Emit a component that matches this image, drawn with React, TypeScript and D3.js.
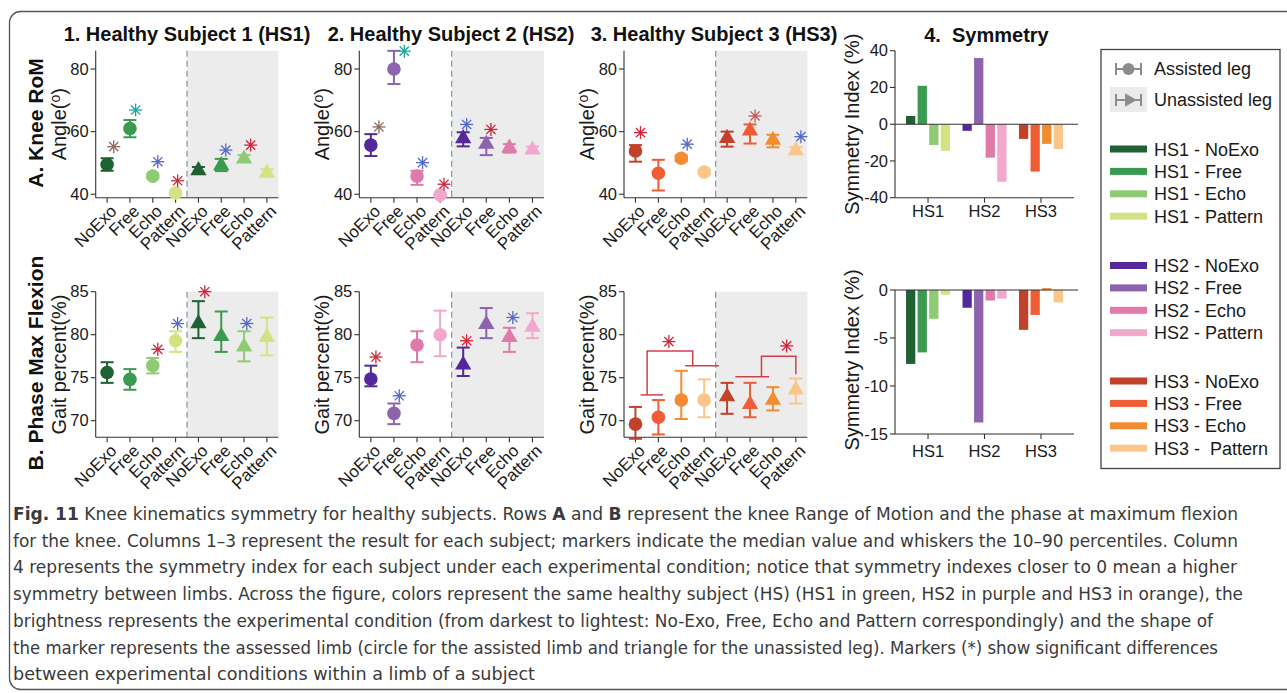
import React from "react";
import * as d3 from "d3";

const conditions = ["NoExo", "Free", "Echo", "Pattern"];
const subjects = ["HS1", "HS2", "HS3"];
const hs1Colors = ["#1f6132", "#3a9a4f", "#8fcb74", "#d3e283"];
const hs2Colors = ["#54289b", "#8e63ad", "#e07aab", "#f4a7cc"];
const hs3Colors = ["#c1412a", "#ef5d35", "#f28c31", "#fbc689"];
const starColors: Record<string, string> = {
  brown: "#8b6b62",
  teal: "#18a79b",
  blue: "#5468c6",
  red: "#d1263b",
  rust: "#c9554f",
};

const romTicks = [40, 60, 80];
const phaseTicks = [70, 75, 80, 85];
const symRomTicks = [-40, -20, 0, 20, 40];
const symPhaseTicks = [-15, -10, -5, 0];

// [median, p10, p90] per condition
const hs1RomAssisted = [[49.5, 47.5, 51.5], [61.0, 58.2, 63.7], [45.8, 45.2, 46.5], [40.4, 40.0, 41.0]];
const hs1RomUnassisted = [[47.6, 46.6, 48.7], [49.2, 47.4, 51.3], [51.3, 50.4, 52.5], [46.8, 46.0, 48.0]];
const hs2RomAssisted = [[55.7, 52.2, 59.2], [80.0, 75.2, 85.8], [45.8, 43.0, 47.5], [39.8, 39.4, 40.2]];
const hs2RomUnassisted = [[57.8, 55.3, 59.8], [56.0, 52.5, 58.0], [54.8, 53.3, 56.0], [54.2, 53.5, 55.2]];
const hs3RomAssisted = [[53.8, 50.4, 55.7], [46.7, 41.2, 51.0], [51.5, 50.6, 52.4], [47.1, 46.5, 47.8]];
const hs3RomUnassisted = [[57.9, 55.2, 60.0], [60.3, 56.2, 62.3], [57.3, 55.0, 59.0], [53.9, 53.0, 55.0]];

const hs1PhaseAssisted = [[75.6, 74.4, 76.8], [74.8, 73.6, 76.0], [76.4, 75.5, 77.3], [79.3, 78.0, 80.4]];
const hs1PhaseUnassisted = [[81.3, 79.6, 83.9], [79.8, 78.0, 82.7], [78.6, 76.9, 80.4], [79.7, 77.6, 82.0]];
const hs2PhaseAssisted = [[74.85, 74.0, 76.4], [70.85, 69.6, 72.0], [78.8, 76.8, 80.4], [80.0, 77.5, 82.8]];
const hs2PhaseUnassisted = [[76.5, 75.2, 78.5], [81.2, 79.6, 83.1], [79.7, 78.0, 80.8], [80.9, 79.6, 82.5]];
const hs3PhaseAssisted = [[69.6, 67.9, 71.6], [70.4, 68.4, 72.4], [72.4, 70.2, 75.8], [72.4, 70.4, 74.8]];
const hs3PhaseUnassisted = [[72.8, 70.8, 74.4], [71.9, 70.4, 74.4], [72.4, 71.2, 73.9], [73.6, 72.0, 74.9]];

// significance markers: [slot 0-7, offset within slot, value, colour]
const hs1RomStars: [number, number, number, string][] = [[0, 0.29, 55.2, "brown"], [1, 0.25, 66.9, "teal"], [2, 0.22, 50.4, "blue"], [3, 0.09, 44.3, "red"], [5, 0.2, 54.1, "blue"], [6, 0.29, 55.7, "red"]];
const hs2RomStars: [number, number, number, string][] = [[0, 0.35, 61.5, "brown"], [1, 0.45, 85.7, "teal"], [2, 0.24, 50.1, "blue"], [3, 0.17, 43.2, "red"], [4, 0.15, 62.3, "blue"], [5, 0.2, 60.7, "red"]];
const hs3RomStars: [number, number, number, string][] = [[0, 0.22, 59.7, "red"], [2, 0.26, 56.0, "blue"], [5, 0.22, 65.0, "rust"], [7, 0.22, 58.4, "blue"]];
const hs1PhaseStars: [number, number, number, string][] = [[2, 0.22, 78.3, "red"], [3, 0.09, 81.3, "blue"], [4, 0.28, 85.0, "red"], [6, 0.12, 81.3, "blue"]];
const hs2PhaseStars: [number, number, number, string][] = [[0, 0.22, 77.4, "red"], [1, 0.23, 72.9, "blue"], [4, 0.15, 79.3, "red"], [6, 0.15, 82.0, "blue"]];
const hs3PhaseStars: [number, number, number, string][] = [[1, 0.46, 79.2, "red"], [6, 0.6, 78.7, "red"]];

// group-comparison brackets (slot units): left low [a,b,v], right low [a,b,v], top [a,b,v]
const hs3PhaseBrackets = [
  { left: [0.22, 1.2, 73.0], right: [2.17, 3.64, 76.4], top: [0.51, 2.5, 78.1] },
  { left: [4.36, 5.83, 75.1], right: [7.0, 7.0, 75.4], top: [5.5, 7.0, 77.5] },
];

const symRom = [[4.5, 20.9, -11.3, -14.5], [-3.6, 36.0, -18.2, -31.3], [-8.0, -25.8, -10.7, -13.5]];
const symPhase = [[-7.7, -6.5, -3.0, -0.5], [-1.85, -13.8, -1.1, -0.9], [-4.15, -2.6, 0.2, -1.3]];

const captionLines = [
  "for the knee. Columns 1–3 represent the result for each subject; markers indicate the median value and whiskers the 10–90 percentiles. Column",
  "4 represents the symmetry index for each subject under each experimental condition; notice that symmetry indexes closer to 0 mean a higher",
  "symmetry between limbs. Across the figure, colors represent the same healthy subject (HS) (HS1 in green, HS2 in purple and HS3 in orange), the",
  "brightness represents the experimental condition (from darkest to lightest: No-Exo, Free, Echo and Pattern correspondingly) and the shape of",
  "the marker represents the assessed limb (circle for the assisted limb and triangle for the unassisted leg). Markers (*) show significant differences",
  "between experimental conditions within a limb of a subject",
];
const captionWidths = [1225, 1224, 1230, 1200, 1205, 522];

const FONT = "'Liberation Sans', Arial, Helvetica, sans-serif";
const AXIS = "#333";

const subjectColors = [hs1Colors, hs2Colors, hs3Colors];

function Star({ x, y, color }: { x: number; y: number; color: string }) {
  const r = 6.5;
  const d = r * Math.SQRT1_2;
  return (
    <g stroke={color} strokeWidth={1.3}>
      <line x1={x - r} y1={y} x2={x + r} y2={y} />
      <line x1={x} y1={y - r} x2={x} y2={y + r} />
      <line x1={x - d} y1={y - d} x2={x + d} y2={y + d} />
      <line x1={x - d} y1={y + d} x2={x + d} y2={y - d} />
      <circle cx={x} cy={y} r={1.4} fill={color} stroke="none" />
    </g>
  );
}

const triPath = d3.symbol(d3.symbolTriangle, 115)() as string;

type PanelProps = {
  x0: number; x1: number; yTop: number; yBottom: number;
  domain: [number, number]; ticks: number[]; ylabel: React.ReactNode;
  assisted: number[][]; unassisted: number[][]; colors: string[];
  stars: [number, number, number, string][];
  brackets?: typeof hs3PhaseBrackets;
};

function ErrorPanel(p: PanelProps) {
  const x = d3.scaleLinear().domain([-0.5, 7.5]).range([p.x0, p.x1]);
  const y = d3.scaleLinear().domain(p.domain).range([p.yBottom, p.yTop]);
  const slots = d3.range(8);
  const labels = [...conditions, ...conditions];
  const split = x(3.5);
  const bracketColor = "#d2404f";
  return (
    <g fontFamily={FONT}>
      <rect x={split} y={p.yTop} width={p.x1 - split} height={p.yBottom - p.yTop} fill="#ececec" />
      <line x1={split} x2={split} y1={p.yTop} y2={p.yBottom} stroke="#7f98aa" strokeWidth={1.2} strokeDasharray="6,4" />
      <line x1={p.x0} x2={p.x0} y1={p.yTop} y2={p.yBottom} stroke={AXIS} strokeWidth={1.1} />
      <line x1={p.x0} x2={p.x1} y1={p.yBottom} y2={p.yBottom} stroke={AXIS} strokeWidth={1.1} />
      {p.ticks.map((t) => (
        <g key={t}>
          <line x1={p.x0 - 5} x2={p.x0} y1={y(t)} y2={y(t)} stroke={AXIS} strokeWidth={1.1} />
          <text x={p.x0 - 7} y={y(t)} dy="0.35em" textAnchor="end" fontSize={16.5} fill="#1a1a1a">{t}</text>
        </g>
      ))}
      {slots.map((s) => (
        <g key={s}>
          <line x1={x(s)} x2={x(s)} y1={p.yBottom} y2={p.yBottom + 5} stroke={AXIS} strokeWidth={1.1} />
          <text transform={`translate(${x(s) + 10.5},${p.yBottom + 14.5}) rotate(-45)`} textAnchor="end" fontSize={17} fill="#1a1a1a">{labels[s]}</text>
        </g>
      ))}
      <text transform={`translate(${p.x0 - 37},${(p.yTop + p.yBottom) / 2}) rotate(-90)`} textAnchor="middle" dominantBaseline="central" fontSize={20} fill="#1a1a1a">{p.ylabel}</text>
      {(p.brackets || []).map((b, i) => (
        <g key={i} stroke={bracketColor} strokeWidth={1.5} fill="none">
          <line x1={x(b.left[0])} x2={x(b.left[1])} y1={y(b.left[2])} y2={y(b.left[2])} />
          {b.right[0] !== b.right[1] && <line x1={x(b.right[0])} x2={x(b.right[1])} y1={y(b.right[2])} y2={y(b.right[2])} />}
          <path d={`M${x(b.top[0])},${y(b.left[2])}V${y(b.top[2])}H${x(b.top[1])}V${y(b.right[2])}`} />
        </g>
      ))}
      {[p.assisted, p.unassisted].map((series, leg) =>
        series.map((d, ci) => {
          const cx = x(leg * 4 + ci);
          const col = p.colors[ci];
          return (
            <g key={`${leg}-${ci}`}>
              <g stroke={col} strokeWidth={2}>
                <line x1={cx} x2={cx} y1={y(d[1])} y2={y(d[2])} />
                <line x1={cx - 6.5} x2={cx + 6.5} y1={y(d[1])} y2={y(d[1])} />
                <line x1={cx - 6.5} x2={cx + 6.5} y1={y(d[2])} y2={y(d[2])} />
              </g>
              {leg === 0 ? (
                <circle cx={cx} cy={y(d[0])} r={6.8} fill={col} />
              ) : (
                <path d={triPath} transform={`translate(${cx},${y(d[0])})`} fill={col} />
              )}
            </g>
          );
        })
      )}
      {p.stars.map((s, i) => (
        <Star key={i} x={x(s[0] + s[1])} y={y(s[2])} color={starColors[s[3]]} />
      ))}
    </g>
  );
}

type SymProps = {
  yTop: number; yBottom: number; domain: [number, number]; ticks: number[];
  values: number[][]; labelY: number;
};

function SymPanel(p: SymProps) {
  const x0 = 895, x1 = 1074;
  const outer = d3.scalePoint<string>().domain(subjects).range([x0, x1]).padding(0.585);
  const inner = d3.scaleBand<string>().domain(conditions).range([-22, 22]).paddingInner(0.2);
  const y = d3.scaleLinear().domain(p.domain).range([p.yBottom, p.yTop]);
  return (
    <g fontFamily={FONT}>
      <line x1={x0} x2={x0} y1={p.yTop} y2={p.yBottom} stroke={AXIS} strokeWidth={1.1} />
      <line x1={x0} x2={x1} y1={p.yBottom} y2={p.yBottom} stroke={AXIS} strokeWidth={1.1} />
      {p.ticks.map((t) => (
        <g key={t}>
          <line x1={x0 - 5} x2={x0} y1={y(t)} y2={y(t)} stroke={AXIS} strokeWidth={1.1} />
          <text x={x0 - 7} y={y(t)} dy="0.35em" textAnchor="end" fontSize={16.5} fill="#1a1a1a">{t}</text>
        </g>
      ))}
      {p.values.map((vals, si) =>
        vals.map((v, ci) => {
          const bx = (outer(subjects[si]) as number) + (inner(conditions[ci]) as number);
          return (
            <rect key={`${si}-${ci}`} x={bx} width={inner.bandwidth()} y={Math.min(y(0), y(v))} height={Math.abs(y(v) - y(0))} fill={subjectColors[si][ci]} />
          );
        })
      )}
      <line x1={x0} x2={x1 + 4} y1={y(0)} y2={y(0)} stroke={AXIS} strokeWidth={1.1} />
      {subjects.map((s) => (
        <g key={s}>
          <line x1={outer(s)} x2={outer(s)} y1={p.yBottom} y2={p.yBottom + 5} stroke={AXIS} strokeWidth={1.1} />
          <text x={outer(s)} y={p.labelY} textAnchor="middle" fontSize={16.5} fill="#1a1a1a">{s}</text>
        </g>
      ))}
      <text transform={`translate(${852},${(p.yTop + p.yBottom) / 2 + (p.domain[0] === -15 ? -2 : 0)}) rotate(-90)`} textAnchor="middle" dominantBaseline="central" fontSize={20} fill="#1a1a1a">Symmetry Index (%)</text>
    </g>
  );
}

function Legend() {
  const lx = 1110, tx = 1154;
  const groups = [
    { y0: 149, colors: hs1Colors, subj: "HS1" },
    { y0: 265.5, colors: hs2Colors, subj: "HS2" },
    { y0: 381, colors: hs3Colors, subj: "HS3" },
  ];
  const gray = "#8c8c8c";
  const triRight = d3.symbol(d3.symbolTriangle, 80)() as string;
  return (
    <g fontFamily={FONT} fontSize={18} fill="#1a1a1a">
      <rect x={1101} y={49.5} width={179} height={419} fill="none" stroke="#444" strokeWidth={1.3} />
      <g stroke={gray} strokeWidth={2}>
        <line x1={1116} x2={1141} y1={69} y2={69} />
        <line x1={1116} x2={1116} y1={63} y2={75} />
        <line x1={1141} x2={1141} y1={63} y2={75} />
      </g>
      <circle cx={1128.5} cy={69} r={6} fill={gray} />
      <text x={tx} y={75}>Assisted leg</text>
      <rect x={1110} y={87} width={37} height={25} fill="#ebebeb" />
      <g stroke={gray} strokeWidth={2}>
        <line x1={1116} x2={1141} y1={100} y2={100} />
        <line x1={1116} x2={1116} y1={94} y2={106} />
        <line x1={1141} x2={1141} y1={94} y2={106} />
      </g>
      <path d={triRight} transform="translate(1129,100) rotate(90)" fill={gray} />
      <text x={tx} y={106}>Unassisted leg</text>
      {groups.map((g) =>
        g.colors.map((c, i) => {
          const yy = g.y0 + i * 22.4;
          return (
            <g key={`${g.subj}-${i}`}>
              <rect x={lx} y={yy - 3.5} width={37} height={7} fill={c} />
              <text x={tx} y={yy + 6.5} style={{ whiteSpace: "pre" }}>
                {`${g.subj} - ${g.subj === "HS3" && i === 3 ? " " : ""}${conditions[i]}`}
              </text>
            </g>
          );
        })
      )}
    </g>
  );
}

const angleLabel = (
  <>
    Angle(<tspan fontSize={14} dy={-4}>o</tspan><tspan dy={4}>)</tspan>
  </>
);

export default function App() {
  const rowA = { yTop: 50.7, yBottom: 197.7, domain: [38.9, 85.85] as [number, number] };
  const rowB = { yTop: 291.7, yBottom: 437.3, domain: [68.07, 85] as [number, number] };
  const cols = [
    { x0: 95.7, x1: 278.3 },
    { x0: 359.3, x1: 544 },
    { x0: 624, x1: 807.3 },
  ];
  const titles = ["1. Healthy Subject 1 (HS1)", "2. Healthy Subject 2 (HS2)", "3. Healthy Subject 3 (HS3)"];
  const titleX = [187, 451, 714];
  const romA = [hs1RomAssisted, hs2RomAssisted, hs3RomAssisted];
  const romU = [hs1RomUnassisted, hs2RomUnassisted, hs3RomUnassisted];
  const phA = [hs1PhaseAssisted, hs2PhaseAssisted, hs3PhaseAssisted];
  const phU = [hs1PhaseUnassisted, hs2PhaseUnassisted, hs3PhaseUnassisted];
  const romS = [hs1RomStars, hs2RomStars, hs3RomStars];
  const phS = [hs1PhaseStars, hs2PhaseStars, hs3PhaseStars];
  return (
    <svg width={1287} height={693} style={{ position: "absolute", left: 0, top: 0, background: "#fff" }}>
      <rect x={0} y={0} width={1287} height={693} fill="#fff" />
      <rect x={9.5} y={11.5} width={1320} height={678} rx={11} fill="none" stroke="#555" strokeWidth={1.3} />
      <g fontFamily={FONT} fontWeight="bold" fontSize={20} fill="#111" textAnchor="middle">
        {titles.map((t, i) => (
          <text key={t} x={titleX[i]} y={41}>{t}</text>
        ))}
        <text x={986.5} y={42} style={{ whiteSpace: "pre" }}>4.  Symmetry</text>
        <text transform="translate(35,123) rotate(-90)" dominantBaseline="central" fontSize={21}>A. Knee RoM</text>
        <text transform="translate(35,363) rotate(-90)" dominantBaseline="central" fontSize={21}>B. Phase Max Flexion</text>
      </g>
      {cols.map((c, i) => (
        <ErrorPanel key={`a${i}`} {...c} {...rowA} ticks={romTicks} ylabel={angleLabel}
          assisted={romA[i]} unassisted={romU[i]} colors={subjectColors[i]} stars={romS[i]} />
      ))}
      {cols.map((c, i) => (
        <ErrorPanel key={`b${i}`} {...c} {...rowB} ticks={phaseTicks} ylabel="Gait percent(%)"
          assisted={phA[i]} unassisted={phU[i]} colors={subjectColors[i]} stars={phS[i]}
          brackets={i === 2 ? hs3PhaseBrackets : undefined} />
      ))}
      <SymPanel yTop={50.7} yBottom={197.7} domain={[-40, 40]} ticks={symRomTicks} values={symRom} labelY={217} />
      <SymPanel yTop={290} yBottom={434} domain={[-15, 0]} ticks={symPhaseTicks} values={symPhase} labelY={457} />
      <Legend />
      <g fontFamily="'DejaVu Sans Condensed', 'Liberation Sans Narrow', sans-serif" fontSize={18} fill="#3a3a3a">
        <text x={13} y={520} textLength={1225} lengthAdjust="spacingAndGlyphs">
          <tspan fontWeight="bold">Fig. 11</tspan>
          <tspan>  Knee kinematics symmetry for healthy subjects. Rows </tspan>
          <tspan fontWeight="bold">A</tspan>
          <tspan> and </tspan>
          <tspan fontWeight="bold">B</tspan>
          <tspan> represent the knee Range of Motion and the phase at maximum flexion</tspan>
        </text>
        {captionLines.map((l, i) => (
          <text key={i} x={13} y={546.7 + i * 26.7} textLength={captionWidths[i]} lengthAdjust="spacingAndGlyphs">{l}</text>
        ))}
      </g>
    </svg>
  );
}
